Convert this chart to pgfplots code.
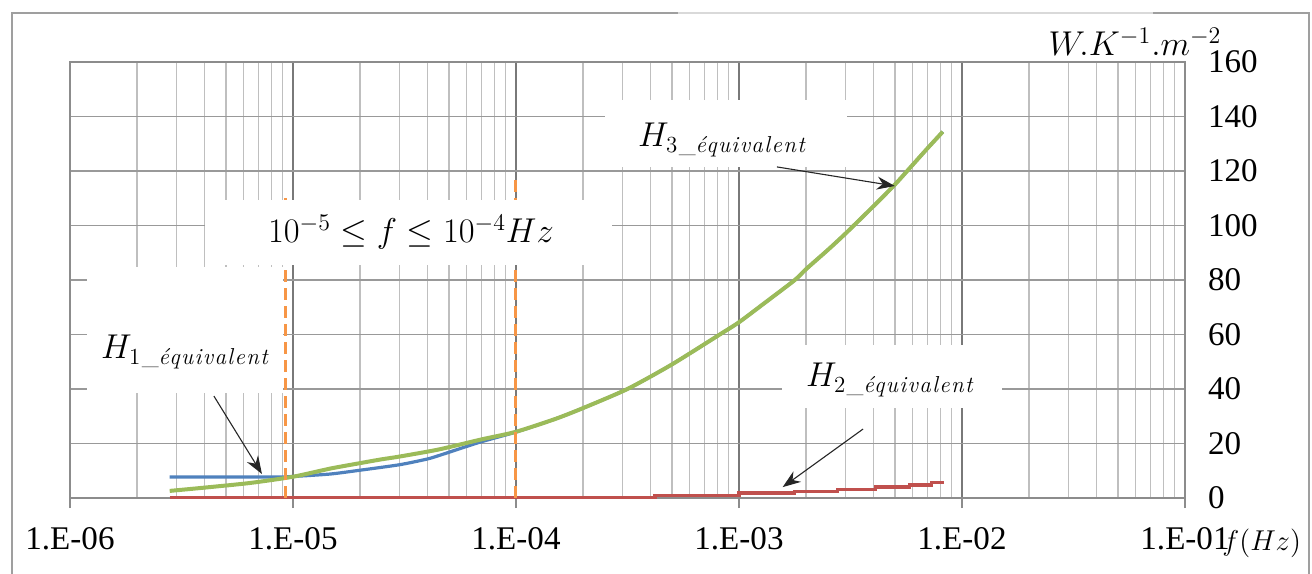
\documentclass[border=0pt]{standalone}
\usepackage{amsmath}
\usepackage{fontspec}
\setmainfont{Liberation Serif}
\newfontfamily\lmfont{Latin Modern Roman}[LetterSpace=6]
\usepackage{pgfplots}
\pgfplotsset{compat=1.18}
\usetikzlibrary{arrows.meta}

\definecolor{hblue}{HTML}{4F81BD}
\definecolor{hred}{HTML}{C0504D}
\definecolor{hgreen}{HTML}{9BBB59}
\definecolor{horange}{HTML}{F79646}

\newcommand{\lblfont}{\fontsize{16.6}{20}\selectfont}
\newcommand{\annfont}{\fontsize{16.5}{19}\selectfont}
\newcommand{\heq}[1]{$H_{\text{\lmfont #1\_\itshape équivalent}}$}

\begin{document}
\begin{tikzpicture}
\begin{axis}[
  scale only axis, width=557.5bp, height=218bp,
  xmode=log, xmin=1e-6, xmax=1e-1, ymin=0, ymax=160,
  xtick={1e-6,1e-5,1e-4,1e-3,1e-2,1e-1},
  xticklabels={1.E-06,1.E-05,1.E-04,1.E-03,1.E-02,1.E-01},
  ytick={0,20,...,160},
  yticklabel pos=right,
  xtick pos=bottom, xtick align=outside,
  major tick length=5bp, minor tick length=0pt,
  ytick style={draw=none},
  every tick/.style={draw=gray!90, line width=0.7bp},
  xmajorgrids, xminorgrids, ymajorgrids,
  every major x grid/.style={draw=gray!95!black, line width=0.7bp},
  every minor x grid/.style={draw=gray!50, line width=0.7bp},
  every major y grid/.style={draw=gray!80, line width=0.7bp},
  axis line style={draw=gray!90, line width=0.7bp},
  /pgf/number format/assume math mode=true,
  tick label style={font=\lblfont},
  xticklabel style={yshift=-6bp},
  yticklabel style={xshift=8bp},
  clip=false,
]
% H1 equivalent
\addplot[hblue, line width=1.6bp, smooth, tension=0.4] coordinates {
  (2.8e-6,7.7) (8e-6,7.7) (1e-5,7.9) (1.47e-5,8.8) (2e-5,10.2) (3e-5,12.2)
  (4e-5,14.3) (4.6e-5,15.8) (6.9e-5,20.5) (1e-4,24.2) (1.5e-4,29) (2e-4,33)
  (3.16e-4,40) (5e-4,49) (8.2e-4,60) (1e-3,64.5) (1.3e-3,71.5) (1.78e-3,80)
  (2e-3,84) (2.5e-3,91) (3e-3,97) (4e-3,107) (5e-3,115) (6e-3,122.2)
  (7e-3,128.3) (8.2e-3,134.4)
};
% H2 equivalent
\addplot[hred, line width=1.6bp, const plot] coordinates {
  (2.8e-6,0.2) (4.2e-4,0.9) (1e-3,1.8) (1.78e-3,2.5) (2.77e-3,3.2)
  (4.1e-3,4.0) (5.8e-3,4.8) (7.3e-3,5.6) (8.3e-3,5.6)
};
% H3 equivalent
\addplot[hgreen, line width=2bp, smooth, tension=0.4] coordinates {
  (2.8e-6,2.6) (4e-6,3.8) (6.4e-6,5.5) (1e-5,7.8) (1.47e-5,10.8) (2e-5,12.8)
  (2.5e-5,14.2) (3e-5,15.2) (4.5e-5,17.8) (7e-5,21.5) (1e-4,24.3) (1.5e-4,29)
  (2e-4,33) (3.16e-4,40) (5e-4,49) (8.2e-4,60) (1e-3,64.5) (1.3e-3,71.5)
  (1.78e-3,80) (2e-3,84) (2.5e-3,91) (3e-3,97) (4e-3,107) (5e-3,115)
  (6e-3,122.2) (7e-3,128.3) (8.2e-3,134.4)
};
% frequency band limits
\addplot[horange, line width=1.5bp, dash pattern=on 6bp off 3bp] coordinates {(9.3e-6,0) (9.3e-6,111.9)};
\addplot[horange, line width=1.5bp, dash pattern=on 6bp off 3bp] coordinates {(1e-4,0) (1e-4,118.5)};

% annotations
\fill[white] (axis cs:4.03e-6,85.5) rectangle (axis cs:2.69e-4,109.4);
\node[font=\annfont] at (axis cs:3.38e-5,97.6) {$10^{-5}\leq f\leq 10^{-4}Hz$};

\fill[white] (axis cs:1.19e-6,38.5) rectangle (axis cs:9.0e-6,84.8);
\node[font=\annfont] at (axis cs:3.28e-6,53.6) {\heq{1}};
\draw[black!85, line width=0.55bp, -{Stealth[length=9bp,width=6.5bp]}] (axis cs:4.42e-6,37.4) -- (axis cs:7.26e-6,8.8);

\fill[white] (axis cs:2.51e-4,121.5) rectangle (axis cs:3.05e-3,146.1);
\node[font=\annfont] at (axis cs:8.39e-4,131.4) {\heq{3}};
\draw[black!85, line width=0.55bp, -{Stealth[length=9bp,width=6.5bp]}] (axis cs:1.48e-3,121.5) -- (axis cs:5.0e-3,114.5);

\fill[white] (axis cs:1.56e-3,33.0) rectangle (axis cs:1.51e-2,56.1);
\node[font=\annfont] at (axis cs:4.75e-3,43.3) {\heq{2}};
\draw[black!85, line width=0.55bp, -{Stealth[length=9bp,width=6.5bp]}] (axis cs:3.6e-3,25.3) -- (axis cs:1.57e-3,4.0);
\end{axis}

% axis titles
\node[font=\fontsize{17.5}{20}\selectfont] at (532.5bp,228bp) {$W.K^{-1}.m^{-2}$};
\node[font=\fontsize{15.3}{18}\selectfont, anchor=west, inner sep=0pt] at (576bp,-22.5bp) {$f(Hz)$};

% outer frame
\draw[gray!75, line width=0.8bp] (-29bp,-38bp) -- (-29bp,242.5bp) -- (304bp,242.5bp);
\draw[gray!30, line width=0.8bp] (304bp,242.5bp) -- (541.5bp,242.5bp);
\draw[gray!75, line width=0.8bp] (541.5bp,242.5bp) -- (619.5bp,242.5bp) -- (619.5bp,-38bp);

\pgfresetboundingbox
\path[use as bounding box] (-35bp,-38bp) rectangle (621bp,249bp);
\end{tikzpicture}
\end{document}
